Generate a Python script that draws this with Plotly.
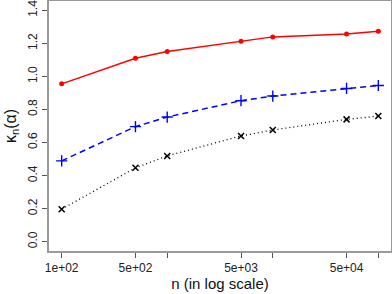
import plotly.graph_objects as go

n_vals = [100, 500, 1000, 5000, 10000, 50000, 100000]
red_vals = [0.955, 1.110, 1.151, 1.213, 1.239, 1.257, 1.273]
blue_vals = [0.489, 0.696, 0.754, 0.853, 0.881, 0.927, 0.945]
black_vals = [0.197, 0.447, 0.519, 0.640, 0.676, 0.740, 0.760]

x_tickvals = [100, 500, 1000, 5000, 10000, 50000, 100000]
x_ticktext = ["1e+02", "5e+02", "", "5e+03", "", "5e+04", ""]
y_tickvals = [0.0, 0.2, 0.4, 0.6, 0.8, 1.0, 1.2, 1.4]
y_ticktext = ["0.0", "0.2", "0.4", "0.6", "0.8", "1.0", "1.2", "1.4"]

fig = go.Figure()
fig.add_trace(go.Scatter(x=n_vals, y=red_vals, mode="lines+markers",
                         line=dict(color="#ff0000", width=1.5, dash="solid"),
                         marker=dict(symbol="circle", size=5, color="#ff0000",
                                     line=dict(width=0))))
fig.add_trace(go.Scatter(x=n_vals, y=blue_vals, mode="lines+markers",
                         line=dict(color="#0000ff", width=1.5, dash="6px,4px"),
                         marker=dict(symbol="cross-thin", size=8,
                                     line=dict(color="#0000ff", width=1.4))))
fig.add_trace(go.Scatter(x=n_vals, y=black_vals, mode="lines+markers",
                         line=dict(color="#000000", width=1.3, dash="1px,3px"),
                         marker=dict(symbol="x-thin", size=6,
                                     line=dict(color="#000000", width=1.5))))

fig.update_layout(
    width=392, height=294,
    margin=dict(l=49, r=1, t=1, b=43),
    paper_bgcolor="white", plot_bgcolor="white",
    showlegend=False,
    font=dict(family="Liberation Sans, Arial, sans-serif", color="#222222", size=12),
)
fig.update_xaxes(
    type="log", range=[1.88, 5.12], automargin=False,
    tickvals=x_tickvals, ticktext=x_ticktext,
    ticks="outside", ticklen=5, tickwidth=1, tickcolor="#555555",
    showline=True, linecolor="#999999", linewidth=1.5, mirror=True,
    showgrid=False, zeroline=False,
    tickfont=dict(size=12), ticklabeloverflow="allow",
    title=dict(text="n (in log scale)", font=dict(size=15, color="#111111"), standoff=4),
)
fig.update_yaxes(
    range=[-0.056, 1.456], automargin=False,
    tickvals=y_tickvals, ticktext=y_ticktext, tickangle=-90,
    ticks="outside", ticklen=5, tickwidth=1, tickcolor="#555555",
    showline=True, linecolor="#999999", linewidth=1.5, mirror=True,
    showgrid=False, zeroline=False,
    tickfont=dict(size=12), ticklabeloverflow="allow",
    title=dict(text="κ<sub>n</sub>(α)", font=dict(size=16, color="#111111"), standoff=6),
)

fig.write_html("out.html", config={"displayModeBar": False},
               post_script="document.body.style.margin='0';document.body.style.overflow='hidden';")
